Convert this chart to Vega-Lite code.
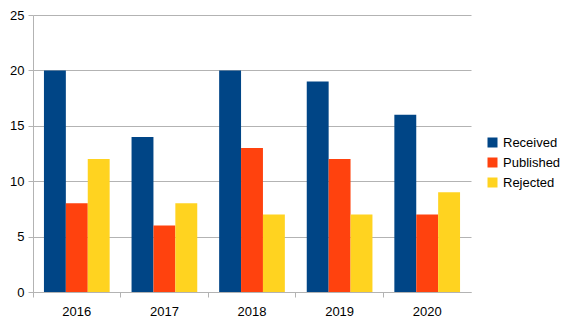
{
  "$schema": "https://vega.github.io/schema/vega-lite/v6.json",
  "width": 438,
  "height": 277,
  "autosize": {"type": "none"},
  "padding": {"left": 33, "top": 15, "right": 99, "bottom": 31},
  "background": "white",
  "config": {
    "view": {"stroke": null},
    "font": "Liberation Sans",
    "axis": {"labelFont": "Liberation Sans", "labelFontSize": 13, "labelColor": "#000000", "domainColor": "#b3b3b3", "tickColor": "#b3b3b3", "gridColor": "#b3b3b3", "tickSize": 5, "title": null}
  },
  "data": {
    "values": [
      {"year": "2016", "series": "Received", "value": 20},
      {"year": "2016", "series": "Published", "value": 8},
      {"year": "2016", "series": "Rejected", "value": 12},
      {"year": "2017", "series": "Received", "value": 14},
      {"year": "2017", "series": "Published", "value": 6},
      {"year": "2017", "series": "Rejected", "value": 8},
      {"year": "2018", "series": "Received", "value": 20},
      {"year": "2018", "series": "Published", "value": 13},
      {"year": "2018", "series": "Rejected", "value": 7},
      {"year": "2019", "series": "Received", "value": 19},
      {"year": "2019", "series": "Published", "value": 12},
      {"year": "2019", "series": "Rejected", "value": 7},
      {"year": "2020", "series": "Received", "value": 16},
      {"year": "2020", "series": "Published", "value": 7},
      {"year": "2020", "series": "Rejected", "value": 9}
    ]
  },
  "mark": {"type": "bar"},
  "encoding": {
    "x": {
      "field": "year", "type": "nominal",
      "scale": {"paddingInner": 0, "paddingOuter": 0},
      "axis": {"labelAngle": 0, "bandPosition": 0, "labelPadding": 8, "grid": false, "labelAlign": "center", "labelOffset": 0, "domain": true}
    },
    "xOffset": {
      "field": "series", "type": "nominal",
      "sort": ["Received", "Published", "Rejected"],
      "scale": {"paddingInner": 0, "paddingOuter": 0.5}
    },
    "y": {
      "field": "value", "type": "quantitative",
      "scale": {"domain": [0, 25]},
      "axis": {"values": [0, 5, 10, 15, 20, 25], "grid": true, "labelPadding": 4, "domain": true}
    },
    "color": {
      "field": "series", "type": "nominal",
      "sort": ["Received", "Published", "Rejected"],
      "scale": {"domain": ["Received", "Published", "Rejected"], "range": ["#004586", "#ff420e", "#ffd320"]},
      "legend": {"title": null, "orient": "none", "legendX": 453, "legendY": 121, "symbolType": "square", "symbolSize": 100, "symbolStrokeWidth": 0, "labelFontSize": 13, "labelColor": "#000000", "labelFont": "Liberation Sans", "rowPadding": 6, "labelOffset": 4}
    }
  }
}
